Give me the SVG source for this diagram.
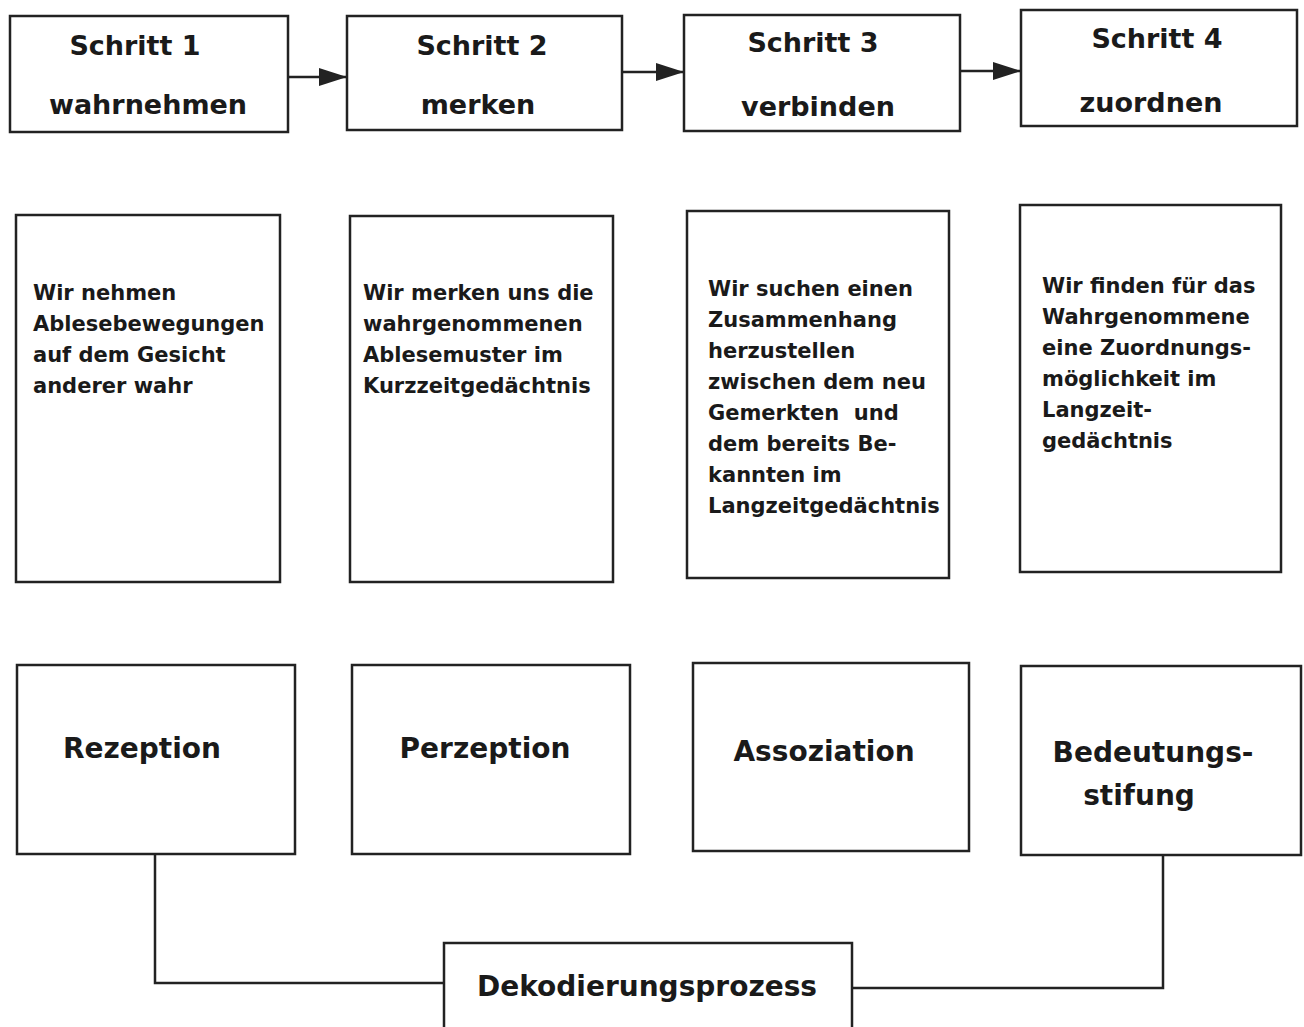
<svg xmlns="http://www.w3.org/2000/svg" width="1304" height="1027" viewBox="0 0 1304 1027">
<style>
.box{fill:#fff;stroke:#222;stroke-width:2.5}
.t{font-family:"DejaVu Sans","Liberation Sans",sans-serif;font-weight:bold;fill:#1a1a1a}
.h{font-size:27px;text-anchor:middle}
.d{font-size:21px}
.b{font-size:28px;text-anchor:middle}
.c{fill:none;stroke:#222;stroke-width:2.5}
</style>
<defs>
<marker id="ah" markerWidth="28" markerHeight="20" refX="28" refY="10" orient="auto" markerUnits="userSpaceOnUse" viewBox="0 0 28 20">
<path d="M0,1 L28,10 L0,19 z" fill="#222"/>
</marker>
</defs>
<rect width="1304" height="1027" fill="#fff"/>
<g id="connectors">
<line class="c" x1="288" y1="77" x2="347" y2="77" marker-end="url(#ah)"/>
<line class="c" x1="622" y1="72" x2="684" y2="72" marker-end="url(#ah)"/>
<line class="c" x1="960" y1="71" x2="1021" y2="71" marker-end="url(#ah)"/>
<polyline class="c" points="155,854 155,983 444,983"/>
<polyline class="c" points="1163,855 1163,988 852,988"/>
</g>
<g id="schritt1"><rect class="box" x="10" y="16" width="278" height="116"/><text class="t h" x="135" y="55">Schritt 1</text><text class="t h" x="148" y="114">wahrnehmen</text></g>
<g id="schritt2"><rect class="box" x="347" y="16" width="275" height="114"/><text class="t h" x="482" y="55">Schritt 2</text><text class="t h" x="478" y="114">merken</text></g>
<g id="schritt3"><rect class="box" x="684" y="15" width="276" height="116"/><text class="t h" x="813" y="52">Schritt 3</text><text class="t h" x="818" y="116">verbinden</text></g>
<g id="schritt4"><rect class="box" x="1021" y="10" width="276" height="116"/><text class="t h" x="1157" y="48">Schritt 4</text><text class="t h" x="1151" y="112">zuordnen</text></g>
<g id="desc1"><rect class="box" x="16" y="215" width="264" height="367"/>
<text class="t d" x="33" y="300"><tspan x="33">Wir nehmen</tspan><tspan x="33" dy="31">Ablesebewegungen</tspan><tspan x="33" dy="31">auf dem Gesicht</tspan><tspan x="33" dy="31">anderer wahr</tspan></text></g>
<g id="desc2"><rect class="box" x="350" y="216" width="263" height="366"/>
<text class="t d" x="363" y="300"><tspan x="363">Wir merken uns die</tspan><tspan x="363" dy="31">wahrgenommenen</tspan><tspan x="363" dy="31">Ablesemuster im</tspan><tspan x="363" dy="31">Kurzzeitgedächtnis</tspan></text></g>
<g id="desc3"><rect class="box" x="687" y="211" width="262" height="367"/>
<text class="t d" x="708" y="296"><tspan x="708">Wir suchen einen</tspan><tspan x="708" dy="31">Zusammenhang</tspan><tspan x="708" dy="31">herzustellen</tspan><tspan x="708" dy="31">zwischen dem neu</tspan><tspan x="708" dy="31">Gemerkten&#160; und</tspan><tspan x="708" dy="31">dem bereits Be-</tspan><tspan x="708" dy="31">kannten im</tspan><tspan x="708" dy="31">Langzeitgedächtnis</tspan></text></g>
<g id="desc4"><rect class="box" x="1020" y="205" width="261" height="367"/>
<text class="t d" x="1042" y="293"><tspan x="1042">Wir finden für das</tspan><tspan x="1042" dy="31">Wahrgenommene</tspan><tspan x="1042" dy="31">eine Zuordnungs-</tspan><tspan x="1042" dy="31">möglichkeit im</tspan><tspan x="1042" dy="31">Langzeit-</tspan><tspan x="1042" dy="31">gedächtnis</tspan></text></g>
<g id="rezeption"><rect class="box" x="17" y="665" width="278" height="189"/><text class="t b" x="142" y="758">Rezeption</text></g>
<g id="perzeption"><rect class="box" x="352" y="665" width="278" height="189"/><text class="t b" x="485" y="758">Perzeption</text></g>
<g id="assoziation"><rect class="box" x="693" y="663" width="276" height="188"/><text class="t b" x="824" y="761">Assoziation</text></g>
<g id="bedeutung"><rect class="box" x="1021" y="666" width="280" height="189"/><text class="t b" x="1153" y="762">Bedeutungs-</text><text class="t b" x="1139" y="805">stifung</text></g>
<g id="dekodierung"><rect class="box" x="444" y="943" width="408" height="100"/><text class="t b" x="647" y="996">Dekodierungsprozess</text></g>
</svg>
